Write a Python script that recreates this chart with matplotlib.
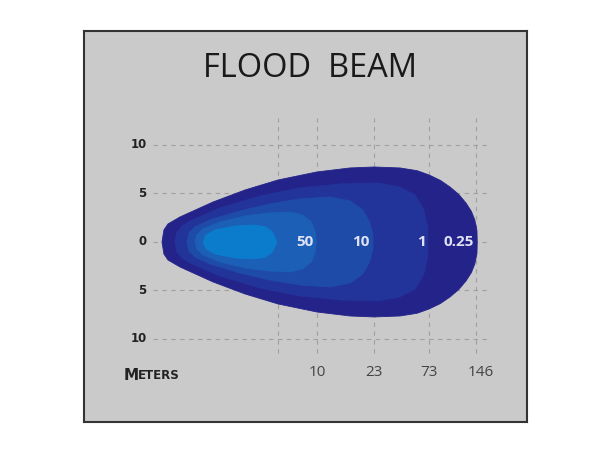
import numpy as np
import matplotlib
matplotlib.use("Agg")
import matplotlib.pyplot as plt

# Beam contours (upper half, mirrored below): x = position along beam, y = half width
core_x = [4.23, 4.54, 5.46, 7.53, 9.59, 10.7, 11.4, 11.86]
core_y = [0.0, 0.72, 1.24, 1.65, 1.75, 1.55, 1.03, 0.0]

lux50_x = [3.40, 3.61, 4.23, 5.98, 8.56, 11.1, 13.2, 14.5, 15.4, 15.8, 15.9]
lux50_y = [0.0, 0.72, 1.34, 2.06, 2.68, 2.99, 3.09, 2.78, 2.06, 1.03, 0.0]

lux10_x = [2.58, 2.78, 3.40, 4.95, 8.04, 11.1, 14.2, 17.3, 19.4, 20.7, 21.4, 21.75, 21.75]
lux10_y = [0.0, 0.93, 1.55, 2.27, 3.20, 3.92, 4.43, 4.64, 4.23, 3.30, 2.06, 0.72, 0.0]

lux1_x = [1.34, 1.55, 2.06, 2.89, 5.98, 10.1, 14.2, 18.4, 22.2, 24.5, 26.1, 27.0, 27.4, 27.4]
lux1_y = [0.0, 1.03, 1.65, 2.16, 3.51, 4.74, 5.57, 5.98, 6.08, 5.67, 4.85, 3.30, 1.44, 0.0]

lux025_x = [0.0, 0.2, 0.62, 1.86, 5.26, 8.56, 11.96, 15.98, 19.38, 21.86, 24.54, 26.3,
            27.53, 28.7, 29.69, 30.6, 31.34, 31.9, 32.25, 32.47, 32.5]
lux025_y = [0.0, 1.24, 1.86, 2.58, 4.12, 5.36, 6.39, 7.22, 7.63, 7.73, 7.63, 7.35,
            6.91, 6.35, 5.67, 4.90, 4.02, 3.15, 2.27, 1.20, 0.0]

# labels
lux_labels = ["50", "10", "1", "0.25"]
lux_label_x = [14.74, 20.52, 26.80, 30.62]
dist_labels = ["10", "23", "73", "146"]
dist_x = [15.98, 21.86, 27.53, 32.37]
dist_label_x = [15.98, 21.86, 27.53, 32.9]
grid_x = [11.96] + dist_x
y_ticks = [10, 5, 0, -5, -10]
y_labels = ["10", "5", "0", "5", "10"]

colors = ["#24238a", "#22349a", "#1f4ba8", "#1b5fb6", "#0b7ccb"]

fig = plt.figure(figsize=(6.1, 4.5), dpi=100)
fig.patch.set_facecolor("white")
ax = fig.add_axes([84 / 610, 28 / 450, 443 / 610, 391 / 450])
ax.set_facecolor("#cacaca")
ax.set_xlim(-8.04, 37.63)
ax.set_ylim(-18.56, 21.75)
ax.set_xticks([])
ax.set_yticks([])
for s in ax.spines.values():
    s.set_color("#333333")
    s.set_linewidth(1.5)

# dashed grid
for y in y_ticks:
    ax.plot([-0.93, 33.6], [y, y], color="#a0a0a0", lw=0.8, ls=(0, (4, 4)), zorder=1)
for x in grid_x:
    ax.plot([x, x], [-11.44, 12.78], color="#a0a0a0", lw=0.8, ls=(0, (4, 4)), zorder=1)

# beam shapes, outermost first
shapes = [(lux025_x, lux025_y), (lux1_x, lux1_y), (lux10_x, lux10_y),
          (lux50_x, lux50_y), (core_x, core_y)]
for (xs, ys), c in zip(shapes, colors):
    xs = np.array(xs)
    ys = np.array(ys)
    px = np.concatenate([xs, xs[::-1]])
    py = np.concatenate([ys, -ys[::-1]])
    ax.fill(px, py, color=c, lw=0.6, ec=c, zorder=2)

for lbl, x in zip(lux_labels, lux_label_x):
    ax.text(x, 0, lbl, color="#dfe2f4", fontsize=11, fontweight="bold",
            family="Open Sans", ha="center", va="center", zorder=3)

for y, lbl in zip(y_ticks, y_labels):
    ax.text(-1.6, y, lbl, color="#222222", fontsize=8.5, fontweight="bold",
            ha="right", va="center")

for x, lbl in zip(dist_label_x, dist_labels):
    ax.text(x, -13.5, lbl, color="#444444", fontsize=11, family="Open Sans",
            ha="center", va="center")

t1 = ax.text(-4.0, -13.8, "M", color="#222222", fontsize=11, fontweight="bold",
             ha="left", va="center")
ax.annotate("ETERS", xy=(1, 0.08), xycoords=t1, color="#222222", fontsize=8.5,
            fontweight="bold", ha="left", va="bottom")

ax.text(15.26, 17.9, "FLOOD  BEAM", color="#1a1a1a", fontsize=23.5,
        family="Open Sans", ha="center", va="center")

fig.savefig("out.png", dpi=100)
